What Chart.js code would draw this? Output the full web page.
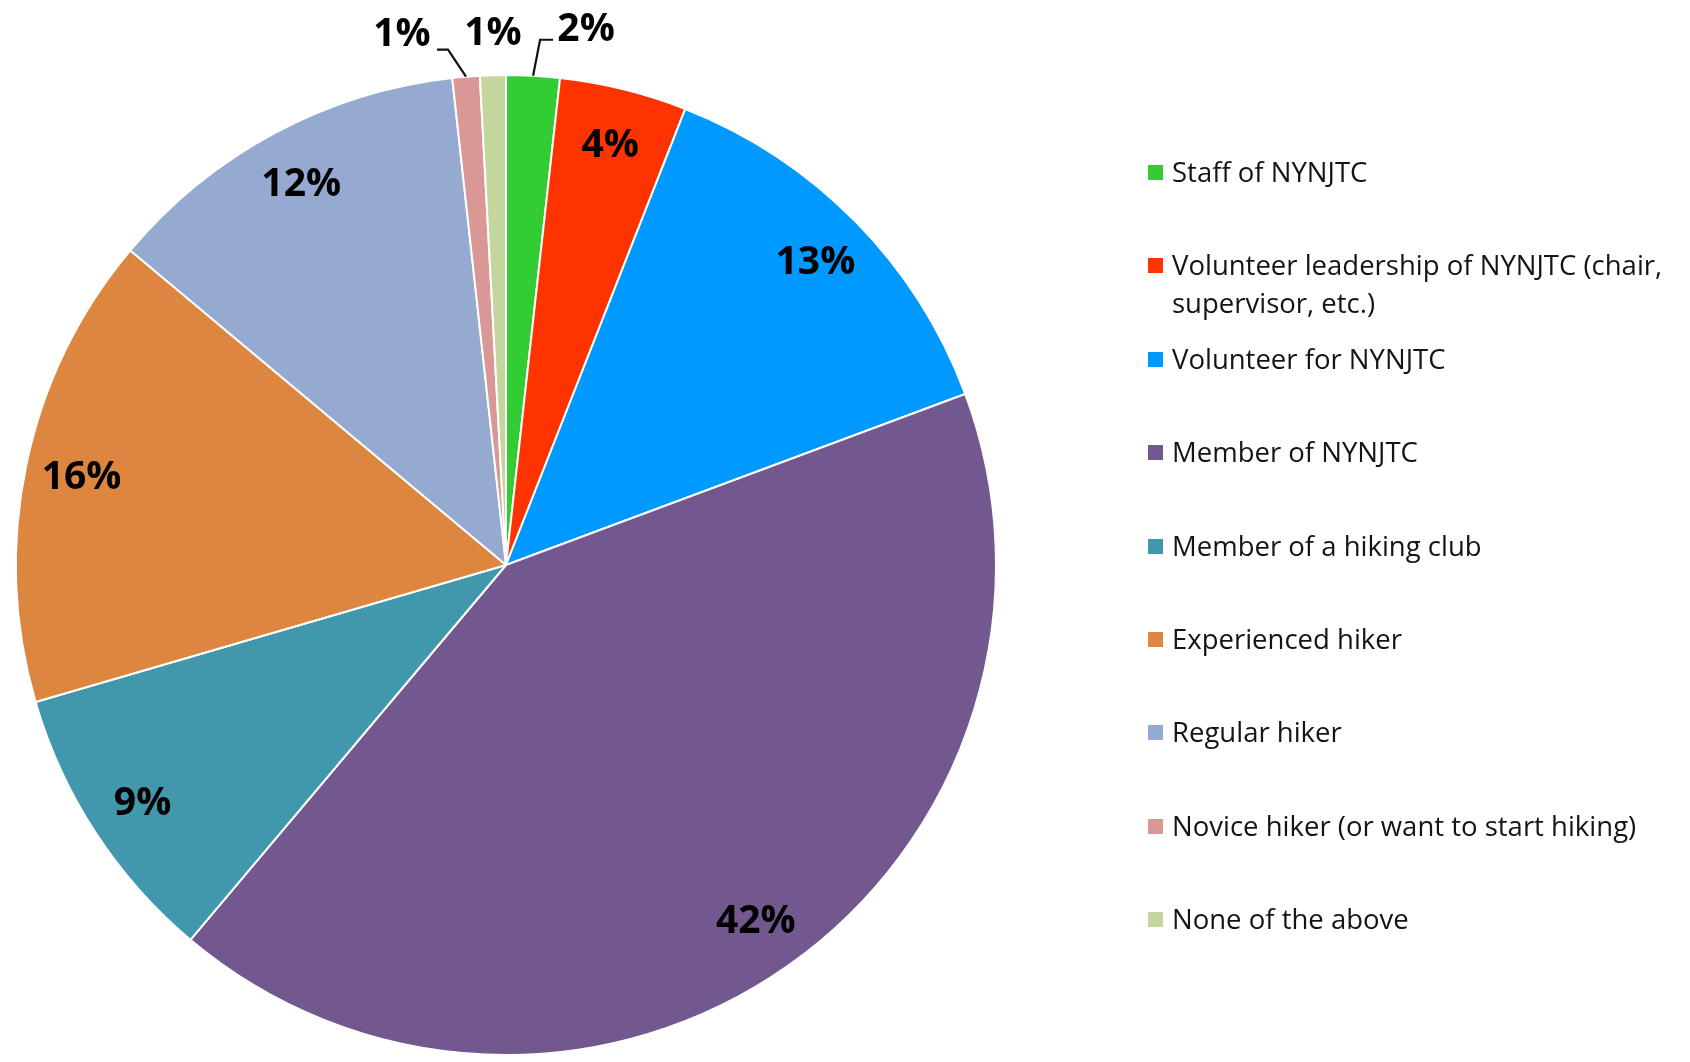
<!DOCTYPE html>
<html>
<head>
<meta charset="utf-8">
<script src="https://cdn.jsdelivr.net/npm/chart.js@4"></script>
<style>
  body { margin: 0; background: #fff; }
  #wrap { position: relative; width: 1690px; height: 1062px; }
  #legend { position: absolute; left: 1148px; top: 0; font-family: "Open Sans", sans-serif; font-size: 27.5px; color: #141414; }
  .item { position: absolute; left: 0; white-space: nowrap; }
  .box { position: absolute; left: 0; width: 15px; height: 15px; }
  .txt { position: absolute; left: 24px; line-height: 38px; }
</style>
</head>
<body>
<div id="wrap">
  <canvas id="pie" width="1690" height="1062"></canvas>
  <div id="legend"></div>
</div>
<script>
// kategoriler (lejand metni, satırlara bölünmüş)
const categories = [
  ["Staff of NYNJTC"],
  ["Volunteer leadership of NYNJTC (chair,", "supervisor, etc.)"],
  ["Volunteer for NYNJTC"],
  ["Member of NYNJTC"],
  ["Member of a hiking club"],
  ["Experienced hiker"],
  ["Regular hiker"],
  ["Novice hiker (or want to start hiking)"],
  ["None of the above"]
];

// yüzdeler (resimden okunan dilim açıları)
const shares = [1.76, 4.2, 13.36, 41.8, 9.35, 15.6, 12.15, 0.9, 0.85];

const colors = [
  "#33cc33", "#ff3300", "#0099ff", "#72588e", "#4197ac",
  "#dd8640", "#95aad0", "#d99795", "#c3d69b"
];

// küçük dilimler için dışarıdaki etiket yerleşimi (dilim kenarına göre)
const callouts = {
  0: { elbow: [7, -36], end: [20, -36], text: [53, -46] },
  7: { elbow: [-18, -27], end: [-29, -27], text: [-64, -42] },
  8: { text: [0, -41] }
};

const total = shares.reduce((a, b) => a + b, 0);
const pct = v => Math.round(v / total * 100) + "%";

// ===============================
// dilim etiketleri
// ===============================
const sliceLabels = {
  id: "sliceLabels",
  afterDatasetsDraw(chart) {
    const ctx = chart.ctx;
    const arcs = chart.getDatasetMeta(0).data;
    ctx.save();
    ctx.font = "bold 39px 'Open Sans', sans-serif";
    ctx.fillStyle = "#000";
    ctx.textAlign = "center";
    ctx.textBaseline = "middle";
    arcs.forEach((arc, i) => {
      const p = arc.getProps(["x", "y", "startAngle", "endAngle", "outerRadius"], true);
      const mid = (p.startAngle + p.endAngle) / 2;
      const text = pct(shares[i]);
      const c = callouts[i];
      if (c) {
        const ax = p.x + Math.cos(mid) * p.outerRadius;
        const ay = p.y + Math.sin(mid) * p.outerRadius;
        if (c.elbow) {
          ctx.beginPath();
          ctx.strokeStyle = "#111";
          ctx.lineWidth = 2.2;
          ctx.moveTo(ax, ay);
          ctx.lineTo(ax + c.elbow[0], ay + c.elbow[1]);
          ctx.lineTo(ax + c.end[0], ay + c.end[1]);
          ctx.stroke();
        }
        ctx.fillText(text, ax + c.text[0], ay + c.text[1]);
      } else {
        const rr = p.outerRadius * 0.885;
        ctx.fillText(text, p.x + Math.cos(mid) * rr, p.y + Math.sin(mid) * rr + 2);
      }
    });
    ctx.restore();
  }
};

new Chart(document.getElementById("pie"), {
  type: "pie",
  data: {
    labels: categories.map(c => c.join(" ")),
    datasets: [{
      data: shares,
      backgroundColor: colors,
      borderColor: "#ffffff",
      borderWidth: 2
    }]
  },
  options: {
    responsive: false,
    animation: false,
    layout: { padding: { left: 15, right: 693, top: 74, bottom: 6 } },
    plugins: {
      legend: { display: false },
      tooltip: { enabled: false }
    }
  },
  plugins: [sliceLabels]
});

// ===============================
// lejand (sağ taraf)
// ===============================
const legend = document.getElementById("legend");
categories.forEach((lines, i) => {
  const rowY = 172 + i * 93.4;
  const item = document.createElement("div");
  item.className = "item";
  item.style.top = rowY + "px";
  const box = document.createElement("div");
  box.className = "box";
  box.style.background = colors[i];
  box.style.top = "-7px";
  const txt = document.createElement("div");
  txt.className = "txt";
  txt.style.top = "-19px";
  txt.innerHTML = lines.join("<br>");
  item.appendChild(box);
  item.appendChild(txt);
  legend.appendChild(item);
});
</script>
</body>
</html>
